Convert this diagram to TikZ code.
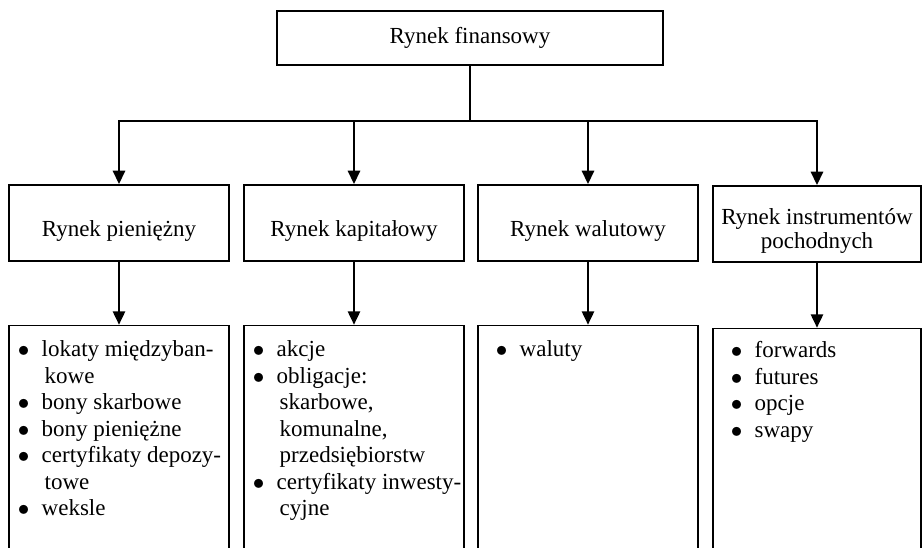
\documentclass[tikz,border=0pt]{standalone}
\usepackage{fontspec}
\setmainfont{Liberation Serif}
\usetikzlibrary{arrows.meta, positioning}

\newcommand{\itm}[1]{\makebox[9.5pt][l]{$\bullet$}#1}
\newcommand{\cnt}[1]{\hspace*{10.7pt}#1}

\begin{document}
\begin{tikzpicture}[
    x=0.4pt, y=-0.4pt,
    market/.style={
        rectangle, draw, line width=0.65pt,
        minimum width=88pt, minimum height=30.4pt,
        inner sep=2pt, align=center, text height=12.6pt,
        font=\fontsize{9.2pt}{9.4pt}\selectfont
    },
    listbox/.style={
        rectangle, draw, line width=0.65pt,
        minimum width=88pt, minimum height=104pt
    },
    items/.style={
        anchor=north west, inner sep=0pt, align=left,
        font=\fontsize{9.2pt}{10.6pt}\selectfont
    },
    arrow/.style={-{Triangle[length=5.4pt, width=4.8pt]}, line width=1.1pt}
]
\useasboundingbox (0,0) rectangle (923,548);
\clip (0,0) rectangle (923,548);

% --- top box ---
\node[market, text height=, minimum width=154.4pt, minimum height=21.6pt] (finansowy) at (470,38) {Rynek finansowy};
\coordinate (bus) at (470,121);

% --- markets ---
\node[market] (pieniezny)  at (119,223) {Rynek pieniężny};
\node[market] (kapitalowy) at (354,223) {Rynek kapitałowy};
\node[market] (walutowy)   at (588,223) {Rynek walutowy};
\node[market, text height=21.4pt, minimum width=83.2pt] (pochodne) at (817,224) {Rynek instrumentów\\pochodnych};

% --- instrument boxes (cut off at the bottom) ---
\node[listbox, below=25.2pt of pieniezny]  (ipien) {};
\node[listbox, below=25.2pt of kapitalowy] (ikap) {};
\node[listbox, below=25.2pt of walutowy]   (iwal) {};
\node[listbox, minimum width=83.2pt, below=26pt of pochodne] (ipoch) {};

\node[items, xshift=3.7pt, yshift=-6.1pt] (lpien) at (ipien.north west)
    {\itm{lokaty międzyban-}\\ \cnt{kowe}\\ \itm{bony skarbowe}\\ \itm{bony pieniężne}\\
     \itm{certyfikaty depozy-}\\ \cnt{towe}\\ \itm{weksle}};
\node[items, xshift=3.7pt, yshift=-6.1pt] (lkap) at (ikap.north west)
    {\itm{akcje}\\ \itm{obligacje:}\\ \cnt{skarbowe,}\\ \cnt{komunalne,}\\
     \cnt{przedsiębiorstw}\\ \itm{certyfikaty inwesty-}\\ \cnt{cyjne}};
\node[items, xshift=7.3pt, yshift=-6.1pt] (lwal) at (iwal.north west)
    {\itm{waluty}};
\node[items, xshift=7.3pt, yshift=-5.2pt] (lpoch) at (ipoch.north west)
    {\itm{forwards}\\ \itm{futures}\\ \itm{opcje}\\ \itm{swapy}};

% --- connectors ---
\draw[line width=1.1pt] (finansowy) -- (bus);
\draw[arrow] (bus) -| (pieniezny.north);
\draw[arrow] (bus) -| (kapitalowy.north);
\draw[arrow] (bus) -| (walutowy.north);
\draw[arrow] (bus) -| (pochodne.north);

\draw[arrow] (pieniezny) -- (ipien);
\draw[arrow] (kapitalowy) -- (ikap);
\draw[arrow] (walutowy) -- (iwal);
\draw[arrow] (pochodne) -- (ipoch);

\end{tikzpicture}
\end{document}
